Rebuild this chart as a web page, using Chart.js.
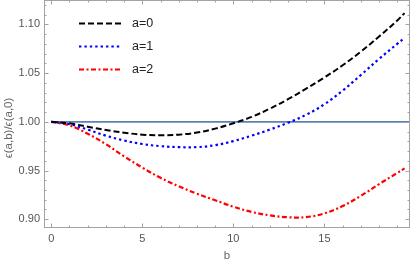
<!DOCTYPE html>
<html><head><meta charset="utf-8">
<script src="https://cdn.jsdelivr.net/npm/chart.js@4"></script>
<style>html,body{margin:0;padding:0;background:#fff;overflow:hidden}</style>
</head><body>
<canvas id="c" width="413" height="265" style="display:block;width:413px;height:265px"></canvas>
<script>
// ---- data ----
const bValues = [0,1,2,3,4,5,6,7,8,9,10,11,12,13,14,15,16,17,18,19,19.4];
const seriesA0 = [1.0000,0.9984,0.9950,0.9915,0.9888,0.9868,0.9862,0.9868,0.9890,0.9930,0.9985,1.0050,1.0135,1.0232,1.0340,1.0455,1.0580,1.0720,1.0875,1.1040,1.1115];
const seriesA1 = [1.0000,0.9975,0.9920,0.9858,0.9808,0.9772,0.9750,0.9740,0.9740,0.9760,0.9802,0.9858,0.9920,0.9990,1.0072,1.0180,1.0320,1.0480,1.0645,1.0800,1.0860];
const seriesA2 = [1.0000,0.9963,0.9878,0.9770,0.9645,0.9530,0.9425,0.9338,0.9262,0.9195,0.9128,0.9075,0.9040,0.9020,0.9022,0.9060,0.9135,0.9240,0.9360,0.9475,0.9522];
const seriesLabels = ['a=0','a=1','a=2'];
const refB = [0, 19.7];
const refValues = [1, 1];
const xTickValues = [0,5,10,15];
const yTickValues = [0.90,0.95,1.00,1.05,1.10];
const xMinorTicks = [0,1,2,3,4,5,6,7,8,9,10,11,12,13,14,15,16,17,18,19];
const yMinorTicks = [0.90,0.91,0.92,0.93,0.94,0.95,0.96,0.97,0.98,0.99,1.00,1.01,1.02,1.03,1.04,1.05,1.06,1.07,1.08,1.09,1.10,1.11,1.12];
const xTitle = 'b';
const yTitle = 'ϵ(a,b)/ϵ(a,0)';

const pts = (xs, ys) => xs.map((x, i) => ({x, y: ys[i]}));
const FRAME = '#a3a3a3';
const FONT = '"Liberation Sans", Arial, sans-serif';

const extras = {
  id: 'extras',
  afterDatasetsDraw(chart) {
    const ctx = chart.ctx;
    const {left, right, top, bottom} = chart.chartArea;
    const xs = chart.scales.x, ys = chart.scales.y;
    ctx.save();
    ctx.strokeStyle = FRAME;
    ctx.lineWidth = 1;
    ctx.setLineDash([]);
    ctx.strokeRect(Math.round(left) + 0.5, Math.round(top) + 0.5,
                   Math.round(right) - Math.round(left) - 1, Math.round(bottom) - Math.round(top) - 1);
    ctx.beginPath();
    xMinorTicks.forEach(v => {
      const len = xTickValues.includes(v) ? 4.5 : 2.5;
      const px = Math.round(xs.getPixelForValue(v)) + 0.5;
      ctx.moveTo(px, bottom); ctx.lineTo(px, bottom - len);
      ctx.moveTo(px, top); ctx.lineTo(px, top + len);
    });
    yMinorTicks.forEach(v => {
      const major = yTickValues.some(t => Math.abs(t - v) < 1e-9);
      const len = major ? 4.5 : 2.5;
      const py = Math.round(ys.getPixelForValue(v)) + 0.5;
      ctx.moveTo(left, py); ctx.lineTo(left + len, py);
      ctx.moveTo(right, py); ctx.lineTo(right - len, py);
    });
    ctx.stroke();

    // legend
    for (let i = 0; i < 3; i++) {
      const ds = chart.data.datasets[i];
      const y = 23.5 + i * 23;
      ctx.beginPath();
      ctx.strokeStyle = ds.borderColor;
      ctx.lineWidth = ds.borderWidth;
      ctx.setLineDash(ds.borderDash);
      ctx.lineCap = 'butt';
      ctx.moveTo(79, y); ctx.lineTo(122, y);
      ctx.stroke();
      ctx.setLineDash([]);
      ctx.fillStyle = '#222';
      ctx.font = '12.5px ' + FONT;
      ctx.textBaseline = 'middle';
      ctx.textAlign = 'left';
      ctx.fillText(seriesLabels[i], 132, y + 0.5);
    }

    // y axis title
    ctx.translate(9, 128);
    ctx.rotate(-Math.PI / 2);
    ctx.fillStyle = '#666';
    ctx.font = '11.5px ' + FONT;
    ctx.textAlign = 'center';
    ctx.textBaseline = 'middle';
    ctx.fillText(yTitle, 0, 0);
    ctx.restore();
  }
};

new Chart(document.getElementById('c'), {
  type: 'line',
  data: {
    datasets: [
      {label: seriesLabels[0], data: pts(bValues, seriesA0), borderColor: '#000000', borderWidth: 2, borderDash: [6, 3], pointRadius: 0, fill: false, tension: 0.4},
      {label: seriesLabels[1], data: pts(bValues, seriesA1), borderColor: '#0000ff', borderWidth: 2.2, borderDash: [2.4, 3], pointRadius: 0, fill: false, tension: 0.4},
      {label: seriesLabels[2], data: pts(bValues, seriesA2), borderColor: '#ff0000', borderWidth: 2.2, borderDash: [5, 2.5, 2, 2.5], pointRadius: 0, fill: false, tension: 0.4},
      {label: 'ref', data: pts(refB, refValues), borderColor: '#5e81b5', borderWidth: 1.7, pointRadius: 0, fill: false}
    ]
  },
  options: {
    responsive: false,
    animation: false,
    devicePixelRatio: 1,
    layout: {padding: {top: 0, right: 3, bottom: 0, left: 0}},
    plugins: {legend: {display: false}, tooltip: {enabled: false}},
    scales: {
      x: {
        type: 'linear', min: -0.4, max: 19.7,
        afterBuildTicks: s => { s.ticks = xTickValues.map(v => ({value: v})); },
        afterFit: s => { s.height = 37; s.paddingLeft = 0; s.paddingRight = 0; },
        ticks: {color: '#555', font: {family: FONT, size: 11}, padding: 4, maxRotation: 0, autoSkip: false},
        grid: {display: false, drawTicks: false},
        border: {display: false},
        title: {display: true, text: xTitle, color: '#666', font: {family: FONT, size: 11.5}, padding: {top: 0, bottom: 2}}
      },
      y: {
        type: 'linear', min: 0.891, max: 1.125,
        afterBuildTicks: s => { s.ticks = yTickValues.map(v => ({value: v})); },
        afterFit: s => { s.width = 44; s.paddingTop = 0; s.paddingBottom = 0; },
        ticks: {color: '#555', font: {family: FONT, size: 11}, padding: 4, callback: v => v.toFixed(2)},
        grid: {display: false, drawTicks: false},
        border: {display: false}
      }
    }
  },
  plugins: [extras]
});
</script>
</body></html>
